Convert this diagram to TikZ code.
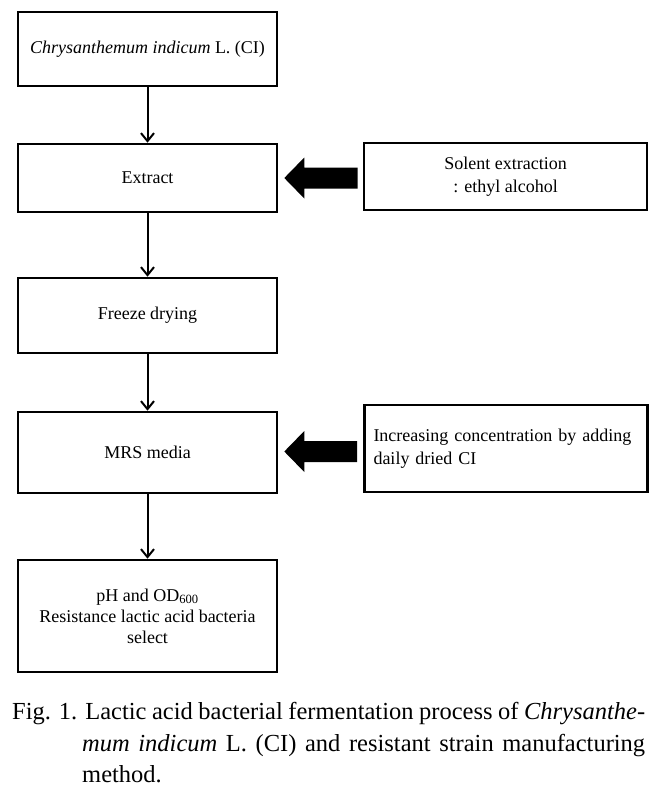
\documentclass[tikz,border=0pt]{standalone}
\usepackage{fontspec}
\setmainfont{Liberation Serif}
\usetikzlibrary{arrows.meta,calc}
\tikzset{
  box/.style={draw, line width=2.6pt, minimum width=259pt, inner sep=0pt, align=center,
    font=\fontsize{18}{21}\selectfont},
  sidebox/.style={draw, line width=2.6pt, minimum width=283pt, inner sep=0pt,
    font=\fontsize{18}{23}\selectfont},
  flow/.style={line width=2pt, -{Straight Barb[length=8pt,width=13pt,line width=2pt]}},
  bigarrow/.style={fill=black},
  captext/.style={anchor=base west, inner sep=0pt, font=\fontsize{24.5}{31}\selectfont}
}
\begin{document}
\begin{tikzpicture}[x=1pt,y=-1pt]
\useasboundingbox[fill=white] (0,0) rectangle (668,792);
\node[box, minimum height=74pt] (b1) at (147.5,49) {\textit{Chrysanthemum indicum} L. (CI)};
\node[box, minimum height=68pt] (b2) at (147.5,178) {Extract};
\node[box, minimum height=75pt] (b3) at (147.5,315.5) {Freeze drying};
\node[box, minimum height=81pt] (b4) at (147.5,452.5) {MRS media};
\node[box, minimum height=112pt] (b5) at (147.5,616) {pH and OD\textsubscript{600}\\Resistance lactic acid bacteria\\select};
\node[sidebox, minimum height=67pt, align=center] (r1) at (505.5,176.5) {Solent extraction\\: ethyl alcohol};
\node[sidebox, minimum height=87pt, text width=265pt, align=left] (r2) at (506,448.5) {Increasing concentration by adding\\daily dried CI};
\draw[flow] (b1) -- (b2);
\draw[flow] (b2) -- (b3);
\draw[flow] (b3) -- (b4);
\draw[flow] (b4) -- (b5);
% big block arrows
\fill[bigarrow] ($(b2.east)+(6,0)$) -- ++(20,-20.5) -- ++(0,10) -- ($(r1.west|-b2.east)+(-5,-10.5)$) -- ++(0,21) -- ($(b2.east)+(26,10.5)$) -- ++(0,10) -- cycle;
\fill[bigarrow] ($(b4.east)+(6,-1)$) -- ++(20,-20.5) -- ++(0,10) -- ($(r2.west|-b4.east)+(-6,-11.5)$) -- ++(0,21) -- ($(b4.east)+(26,9.5)$) -- ++(0,10) -- cycle;
% caption
\node[captext] (cap1) at (12,719)
  {\makebox[633pt][s]{Fig. 1. Lactic acid bacterial fermentation process of \textit{Chrysanthe-}}};
\node[captext] (cap2) at (82,751)
  {\makebox[563pt][s]{\textit{mum indicum} L. (CI) and resistant strain manufacturing}};
\node[captext] (cap3) at (82,782) {method.};
\end{tikzpicture}
\end{document}
